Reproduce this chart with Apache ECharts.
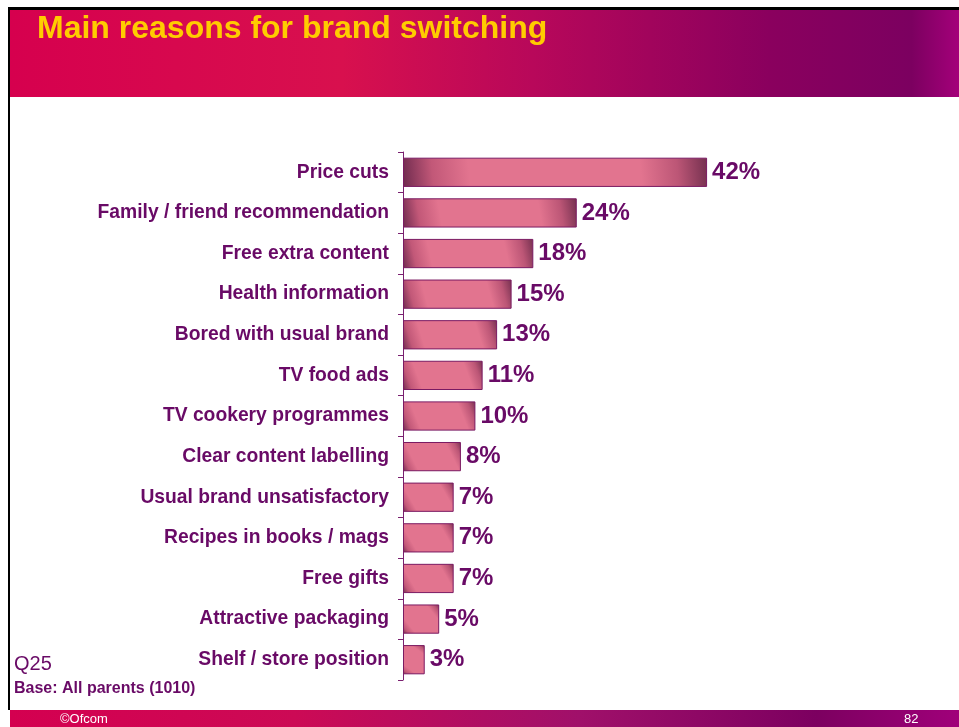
<!DOCTYPE html>
<html><head><meta charset="utf-8">
<script src="https://cdn.jsdelivr.net/npm/echarts@6/dist/echarts.min.js"></script>
<style>html,body{margin:0;padding:0;background:#fff}#c{width:959px;height:727px}</style>
</head><body><div id="c"></div>
<script>
const categories = ["Price cuts","Family / friend recommendation","Free extra content","Health information","Bored with usual brand","TV food ads","TV cookery programmes","Clear content labelling","Usual brand unsatisfactory","Recipes in books / mags","Free gifts","Attractive packaging","Shelf / store position"];
const values = [42,24,18,15,13,11,10,8,7,7,7,5,3];
const titleText = "Main reasons for brand switching";

const chart = echarts.init(document.getElementById('c'));
const purple = '#690a66';
const barGrad = new echarts.graphic.LinearGradient(0,1,1,0,[
  {offset:0,color:'#6e2a4e'},{offset:0.1,color:'#c25878'},{offset:0.22,color:'#e2748f'},
  {offset:0.78,color:'#e2748f'},{offset:0.9,color:'#bc5676'},{offset:1,color:'#74304f'}]);
const headGrad = new echarts.graphic.LinearGradient(0,0,1,0,[
  {offset:0,color:'#d6004e'},{offset:0.35,color:'#d8104e'},{offset:0.55,color:'#b8085a'},
  {offset:0.8,color:'#8a005e'},{offset:0.95,color:'#7c0060'},{offset:1,color:'#a4007a'}]);
const footGrad = new echarts.graphic.LinearGradient(0,0,1,0,[
  {offset:0,color:'#d40050'},{offset:0.3,color:'#cc0a55'},{offset:0.6,color:'#a0106a'},
  {offset:0.85,color:'#7c0060'},{offset:1,color:'#a0007a'}]);

chart.setOption({
  animation:false,
  backgroundColor:'#ffffff',
  grid:{left:403,right:194,top:152,bottom:47},
  xAxis:{type:'value',min:0,max:50,show:false},
  yAxis:{type:'category',data:categories,inverse:true,
    axisLine:{show:true,lineStyle:{color:'#7a2070',width:1}},
    axisTick:{show:true,length:5,inside:false,lineStyle:{color:'#7a2070'}},
    axisLabel:{color:purple,fontFamily:'Liberation Sans, Arial, sans-serif',fontWeight:'bold',fontSize:19.3,margin:14}
  },
  series:[{type:'bar',data:values,barCategoryGap:'28%',
    itemStyle:{color:barGrad,borderColor:'#7a1a62',borderWidth:1},
    label:{show:true,position:'right',distance:5,formatter:'{c}%',color:purple,
      fontFamily:'Liberation Sans, Arial, sans-serif',fontWeight:'bold',fontSize:24}
  }],
  graphic:[
    {type:'rect',shape:{x:10,y:10,width:949,height:87},style:{fill:headGrad},z:-1},
    {type:'rect',shape:{x:8,y:7,width:951,height:3},style:{fill:'#000'}},
    {type:'rect',shape:{x:8,y:7,width:2,height:703},style:{fill:'#000'}},
    {type:'text',left:37,top:13,style:{text:titleText,fill:'#ffcc00',font:'bold 32px "Liberation Sans", Arial, sans-serif'}},
    {type:'rect',shape:{x:10,y:710,width:949,height:17},style:{fill:footGrad}},
    {type:'text',left:14,top:654,style:{text:'Q25',fill:purple,font:'20px "Liberation Sans", Arial, sans-serif'}},
    {type:'text',left:14,top:681,style:{text:'Base: All parents (1010)',fill:purple,font:'bold 16px "Liberation Sans", Arial, sans-serif'}},
    {type:'text',left:60,top:713,style:{text:'©Ofcom',fill:'#ffffff',font:'13px "Liberation Sans", Arial, sans-serif'}},
    {type:'text',left:904,top:713,style:{text:'82',fill:'#ffffff',font:'13px "Liberation Sans", Arial, sans-serif'}}
  ]
});
</script></body></html>
